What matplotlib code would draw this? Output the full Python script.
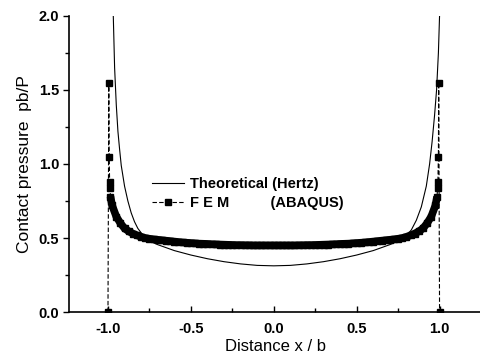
import matplotlib.pyplot as plt
from matplotlib.ticker import MultipleLocator

plt.rcParams['font.family'] = ['Liberation Sans', 'DejaVu Sans']
plt.rcParams['axes.unicode_minus'] = False

# Hertz solution
theory_x = [-0.978, -0.968, -0.96, -0.95, -0.94, -0.93, -0.92, -0.90, -0.88, -0.86, -0.84,
            -0.82, -0.80, -0.77, -0.74, -0.70, -0.65, -0.6, -0.5, -0.4, -0.3, -0.2, -0.1,
            0.0, 0.1, 0.2, 0.3, 0.4, 0.5, 0.6, 0.65, 0.70, 0.74, 0.77, 0.80, 0.83, 0.86,
            0.89, 0.92, 0.94, 0.955, 0.97, 0.982, 0.993, 1.0, 1.003]
theory_y = [2.2, 2.0, 1.65, 1.40, 1.22, 1.10, 0.99, 0.85, 0.75, 0.67, 0.61,
            0.565, 0.535, 0.50, 0.475, 0.455, 0.435, 0.415, 0.385, 0.36, 0.34, 0.325, 0.315,
            0.312, 0.315, 0.325, 0.34, 0.36, 0.385, 0.415, 0.435, 0.455, 0.475, 0.49, 0.515, 0.555, 0.62,
            0.71, 0.85, 1.0, 1.15, 1.33, 1.5, 1.75, 2.0, 2.2]

# FEM nodal pressures (ABAQUS)
fem_x = [-1.0, -0.995, -0.993, -0.99, -0.988, -0.985, -0.975, -0.95, -0.925, -0.9, -0.875,
         -0.85, -0.825, -0.8, -0.775, -0.75, -0.725, -0.7, -0.675, -0.65, -0.625, -0.6,
         -0.575, -0.55, -0.525, -0.5, -0.475, -0.45, -0.425, -0.4, -0.375, -0.35, -0.325,
         -0.3, -0.275, -0.25, -0.225, -0.2, -0.175, -0.15, -0.125, -0.1, -0.075, -0.05,
         -0.025, 0.0, 0.025, 0.05, 0.075, 0.1, 0.125, 0.15, 0.175, 0.2, 0.225, 0.25, 0.275,
         0.3, 0.325, 0.35, 0.375, 0.4, 0.425, 0.45, 0.475, 0.5, 0.525, 0.55, 0.575, 0.6,
         0.625, 0.65, 0.675, 0.7, 0.725, 0.75, 0.775, 0.8, 0.825, 0.85, 0.875, 0.9, 0.925,
         0.95, 0.975, 0.985, 0.988, 0.99, 0.993, 0.995, 1.0]
fem_y = [0.0, 1.55, 1.05, 0.88, 0.84, 0.78, 0.72, 0.645, 0.60, 0.565, 0.545,
         0.53, 0.518, 0.508, 0.50, 0.495, 0.491, 0.488, 0.485, 0.482, 0.479, 0.476,
         0.473, 0.47, 0.468, 0.466, 0.464, 0.462, 0.461, 0.46, 0.458, 0.457, 0.456,
         0.455, 0.454, 0.453, 0.452, 0.452, 0.451, 0.451, 0.450, 0.450, 0.450, 0.450,
         0.450, 0.450, 0.450, 0.450, 0.450, 0.450, 0.450, 0.451, 0.451, 0.452, 0.452, 0.453, 0.454,
         0.455, 0.456, 0.457, 0.458, 0.46, 0.461, 0.462, 0.464, 0.466, 0.468, 0.47, 0.473, 0.476,
         0.479, 0.482, 0.485, 0.488, 0.491, 0.495, 0.50, 0.508, 0.518, 0.53, 0.545, 0.565, 0.60,
         0.645, 0.72, 0.78, 0.84, 0.88, 1.05, 1.55, 0.0]

fig = plt.figure(figsize=(4.81, 3.6), dpi=100)
ax = fig.add_axes([0.1435, 0.1333, 0.8565, 0.8223])

ax.plot(theory_x, theory_y, color='black', lw=0.8, label='Theoretical (Hertz)')
# dense nodes merge into a solid band
ax.plot(fem_x[5:-5], fem_y[5:-5], color='black', lw=5.5, solid_capstyle='butt')
ax.plot(fem_x, fem_y, color='black', lw=0.8, ls=(0, (4, 2)), marker='s', ms=4,
        label='F E M          (ABAQUS)')

ax.set_xlim(-1.235, 1.25)
ax.set_ylim(0, 2.0)
ax.xaxis.set_major_locator(MultipleLocator(0.5))
ax.xaxis.set_minor_locator(MultipleLocator(0.25))
ax.yaxis.set_major_locator(MultipleLocator(0.5))
ax.yaxis.set_minor_locator(MultipleLocator(0.25))

for s in ['top', 'right']:
    ax.spines[s].set_visible(False)
for s in ['left', 'bottom']:
    ax.spines[s].set_linewidth(1.2)

ax.tick_params(axis='x', which='both', direction='in', width=1.0, pad=7)
ax.tick_params(axis='y', which='both', direction='out', width=1.0, pad=3)
ax.tick_params(which='major', length=4, labelsize=10.5)
ax.tick_params(which='minor', length=3)
for lab in ax.get_xticklabels() + ax.get_yticklabels():
    lab.set_fontweight('bold')

ax.set_xlabel('Distance x / b', fontsize=12, labelpad=2)
ax.set_ylabel('Contact pressure  pb/P', fontsize=12.5, labelpad=5)

leg = ax.legend(loc='center left', bbox_to_anchor=(0.17, 0.40), frameon=False,
                fontsize=10.5, handlelength=2.2, handletextpad=0.4, labelspacing=0.35)
for t in leg.get_texts():
    t.set_fontweight('bold')

fig.savefig('out.png', dpi=100)
